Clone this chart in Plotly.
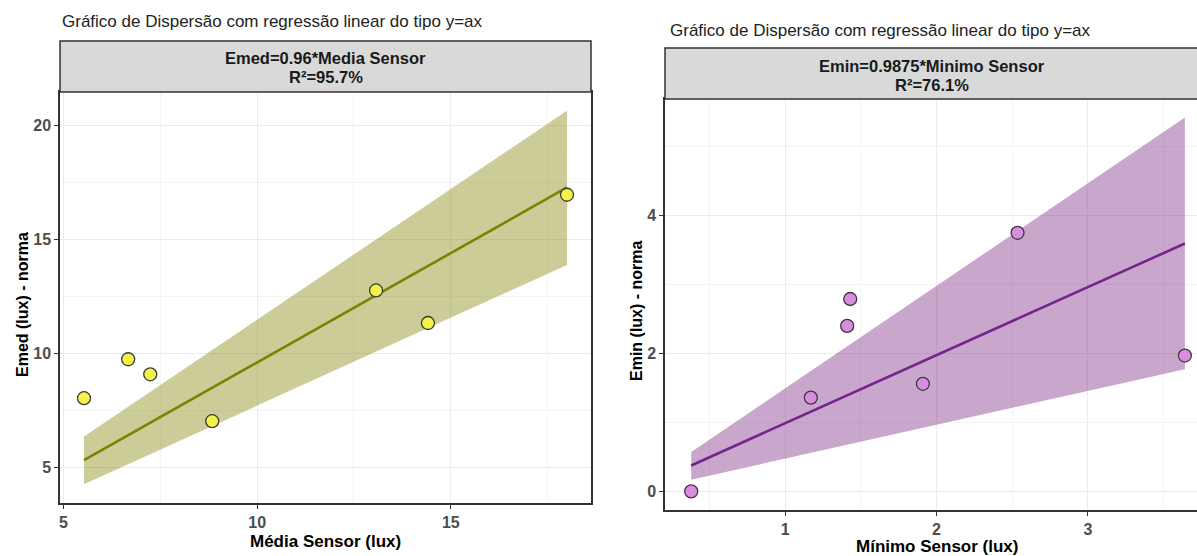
import plotly.graph_objects as go

W, H = 1197, 556

# ---- data: left panel (Média) ----
media_x = [5.53, 6.67, 7.24, 8.84, 13.07, 14.41, 18.0]
media_y = [8.03, 9.74, 9.08, 7.02, 12.76, 11.33, 16.96]
media_slope = 0.96
media_band_x = [5.53, 18.0]
media_band_lo = [4.25, 13.88]
media_band_hi = [6.35, 20.65]

# ---- data: right panel (Mínimo) ----
min_x = [0.38, 1.17, 1.41, 1.43, 1.91, 2.535, 3.64]
min_y = [0.0, 1.36, 2.40, 2.79, 1.56, 3.75, 1.97]
min_slope = 0.9875
min_band_x = [0.38, 3.64]
min_band_lo = [0.17, 1.77]
min_band_hi = [0.57, 5.42]

title_txt = "Gráfico de Dispersão com regressão linear do tipo y=ax"
strip_left = ["Emed=0.96*Media Sensor", "R²=95.7%"]
strip_right = ["Emin=0.9875*Minimo Sensor", "R²=76.1%"]

FONT = "Liberation Sans, Arial, sans-serif"


def px(x):
    return x / W


def py(y):
    return 1 - y / H


fig = go.Figure()

# left panel
fig.add_trace(go.Scatter(
    x=media_band_x + media_band_x[::-1], y=media_band_hi + media_band_lo[::-1],
    fill="toself", fillcolor="rgba(128,128,0,0.4)", line=dict(width=0),
    mode="lines", hoverinfo="skip", showlegend=False, xaxis="x", yaxis="y"))
fig.add_trace(go.Scatter(
    x=media_band_x, y=[media_slope * v for v in media_band_x], mode="lines",
    line=dict(color="#808000", width=2.6), showlegend=False, xaxis="x", yaxis="y"))
fig.add_trace(go.Scatter(
    x=media_x, y=media_y, mode="markers",
    marker=dict(size=13, color="#F2F24A", line=dict(color="#3A3A3A", width=1.3)),
    showlegend=False, xaxis="x", yaxis="y"))

# right panel
fig.add_trace(go.Scatter(
    x=min_band_x + min_band_x[::-1], y=min_band_hi + min_band_lo[::-1],
    fill="toself", fillcolor="rgba(120,35,128,0.4)", line=dict(width=0),
    mode="lines", hoverinfo="skip", showlegend=False, xaxis="x2", yaxis="y2"))
fig.add_trace(go.Scatter(
    x=min_band_x, y=[min_slope * v for v in min_band_x], mode="lines",
    line=dict(color="#74258A", width=2.6), showlegend=False, xaxis="x2", yaxis="y2"))
fig.add_trace(go.Scatter(
    x=min_x, y=min_y, mode="markers",
    marker=dict(size=13, color="#DA8CE0", line=dict(color="#3A3A3A", width=1.3)),
    showlegend=False, xaxis="x2", yaxis="y2"))

tickfont = dict(family=FONT, size=16, color="#4D4D4D", weight="bold")
common = dict(showgrid=True, gridcolor="#EBEBEB", gridwidth=1, zeroline=False,
              showline=True, linecolor="#333333", linewidth=1.5,
              ticks="outside", ticklen=4, tickcolor="#333333",
              tickfont=tickfont)

fig.update_layout(
    width=W, height=H, margin=dict(l=0, r=0, t=0, b=0),
    paper_bgcolor="white", plot_bgcolor="white",
    xaxis=dict(domain=[px(60), px(591)], range=[4.91, 18.62], anchor="y",
               tick0=0, dtick=5, mirror=True,
               minor=dict(showgrid=True, gridcolor="#F4F4F4", dtick=2.5, tick0=0),
               **common),
    yaxis=dict(domain=[py(503), py(92)], range=[3.43, 21.47], anchor="x",
               tick0=0, dtick=5, mirror=True,
               minor=dict(showgrid=True, gridcolor="#F4F4F4", dtick=2.5, tick0=0),
               **common),
    xaxis2=dict(domain=[px(665), 1.0], range=[0.207, 3.72], anchor="y2",
                tick0=0, dtick=1, mirror=True,
                minor=dict(showgrid=True, gridcolor="#F4F4F4", dtick=0.5, tick0=0),
                **common),
    yaxis2=dict(domain=[py(510), py(99)], range=[-0.27, 5.69], anchor="x2",
                tick0=0, dtick=2, mirror=False,
                minor=dict(showgrid=True, gridcolor="#F4F4F4", dtick=1, tick0=0),
                **common),
)

shapes = [
    dict(type="rect", xref="paper", yref="paper", x0=px(60), x1=px(591),
         y0=py(92), y1=py(41), fillcolor="#D9D9D9", line=dict(color="#333333", width=1.5)),
    dict(type="rect", xref="paper", yref="paper", x0=px(665), x1=px(1200),
         y0=py(99), y1=py(48), fillcolor="#D9D9D9", line=dict(color="#333333", width=1.5)),
]
fig.update_layout(shapes=shapes)


def add_text(text, x, y, size, color="#000000", bold=False, angle=0, xanchor="center"):
    return dict(text=("<b>%s</b>" % text) if bold else text, x=px(x), y=py(y),
                xref="paper", yref="paper", xanchor=xanchor, yanchor="middle",
                showarrow=False, textangle=angle,
                font=dict(family=FONT, size=size, color=color))


ann = [
    add_text(title_txt, 60, 22, 17, "#222222", xanchor="left"),
    add_text(title_txt, 668, 31, 17, "#222222", xanchor="left"),
    add_text(strip_left[0], 325.5, 58, 16.5, "#1A1A1A", bold=True),
    add_text(strip_left[1], 325.5, 77, 16.5, "#1A1A1A", bold=True),
    add_text(strip_right[0], 932, 66, 16.5, "#1A1A1A", bold=True),
    add_text(strip_right[1], 932, 85, 16.5, "#1A1A1A", bold=True),
    add_text("Média Sensor (lux)", 325, 541, 17, bold=True),
    add_text("Mínimo Sensor (lux)", 937, 546, 17, bold=True),
    add_text("Emed (lux) - norma", 22, 305, 16, bold=True, angle=-90),
    add_text("Emin (lux) - norma", 636, 311, 16, bold=True, angle=-90),
]
fig.update_layout(annotations=ann)

fig.write_html("out.html", config={"displayModeBar": False},
               post_script="document.body.style.margin='0';document.body.style.overflow='hidden';")
